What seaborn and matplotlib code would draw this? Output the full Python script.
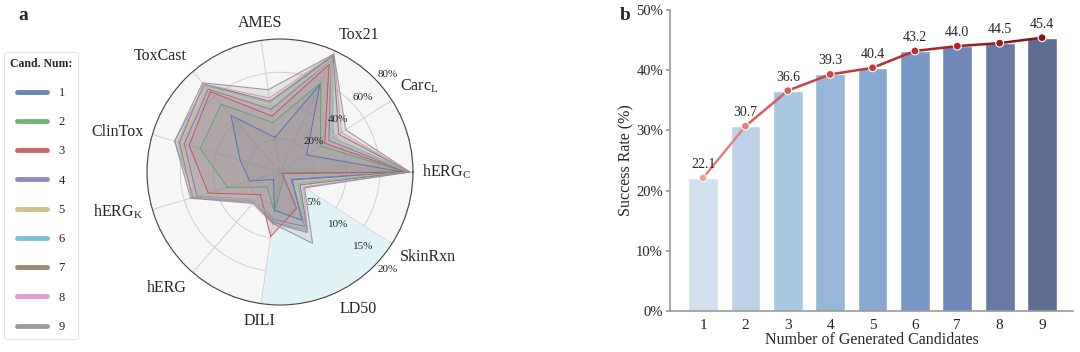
import numpy as np
import matplotlib
matplotlib.use("Agg")
import matplotlib.pyplot as plt
from matplotlib.lines import Line2D
from matplotlib.ticker import FuncFormatter
import seaborn as sns

# ---- radar data (values in %) ----
metrics = ["hERG$_\\mathregular{C}$", "Carc$_\\mathregular{L}$", "Tox21", "AMES", "ToxCast",
           "ClinTox", "hERG$_\\mathregular{K}$", "hERG", "DILI", "LD50", "SkinRxn"]
metric_max = [80, 80, 80, 80, 80, 80, 80, 80, 20, 20, 20]

cand_1 = [74, 19, 58, 21, 45, 25, 19, 6, 5.8, 8.0, 2.2]
cand_2 = [75, 29, 59, 30, 54, 50, 33, 12, 6.0, 1.2, 0.4]
cand_3 = [76, 32, 71, 34, 64, 57, 45, 18, 9.8, 6.0, 0.4]
cand_4 = [77, 35, 74, 38, 66, 60, 52, 22, 7.2, 9.0, 2.0]
cand_5 = [77, 37, 74, 40, 67, 62, 53, 22, 7.4, 9.4, 2.8]
cand_6 = [78, 38, 76, 42, 69, 66, 54, 23, 7.4, 9.6, 3.2]
cand_7 = [78, 42, 77, 43, 70, 63, 55, 24, 7.6, 10.0, 3.6]
cand_8 = [78, 44, 78, 45, 70, 64, 55, 24, 7.8, 10.0, 4.2]
cand_9 = [78, 47, 78, 50, 71, 66, 56, 25, 7.8, 11.8, 4.4]
radar_series = [cand_1, cand_2, cand_3, cand_4, cand_5, cand_6, cand_7, cand_8, cand_9]
cand_labels = ["1", "2", "3", "4", "5", "6", "7", "8", "9"]

# ---- bar data ----
candidates = ["1", "2", "3", "4", "5", "6", "7", "8", "9"]
success_rate = [22.1, 30.7, 36.6, 39.3, 40.4, 43.2, 44.0, 44.5, 45.4]

sns.set_theme(style="white")
plt.rcParams["font.family"] = ["Liberation Serif", "DejaVu Serif"]
plt.rcParams["mathtext.fontset"] = "stix"

radar_colors = ["#4C72B0", "#55A868", "#C44E52", "#8172B2", "#CCB974",
                "#64B5CD", "#857657", "#DA8BC3", "#8C8C8C"]

fig = plt.figure(figsize=(10.8, 3.52), dpi=100)

# ---------------- panel a: radar ----------------
ax = fig.add_axes([0.1361, 0.1335, 0.2463, 0.7557], projection="polar")
ax.set_facecolor("#f6f6f6")
angles = np.linspace(0, 2 * np.pi, len(metrics), endpoint=False)
ax.set_ylim(0, 1)
ax.set_xticks(angles)
ax.set_xticklabels([])
ax.set_yticks([0.25, 0.5, 0.75, 1.0])
ax.set_yticklabels([])
ax.grid(True, color="#cfcfcf", linewidth=0.7)
ax.spines["polar"].set_color("#444444")
ax.spines["polar"].set_linewidth(0.8)

# cyan wedge for the small-scale metrics
wedge = np.linspace(angles[8], angles[10], 60)
ax.fill_between(wedge, 0, 1, color="#e0f3f5", alpha=0.95, zorder=1, lw=0)

for vals, col in zip(radar_series, radar_colors):
    r = np.array(vals) / np.array(metric_max)
    rr = np.append(r, r[0])
    aa = np.append(angles, angles[0])
    ax.fill(aa, rr, color=col, alpha=0.16, zorder=2, lw=0)
    ax.plot(aa, rr, color=col, lw=0.8, alpha=0.85, zorder=3)

for v, r in zip([20, 40, 60, 80], [0.25, 0.5, 0.75, 1.0]):
    ax.text(np.deg2rad(42), r + 0.09, f"{v}%", ha="center", va="center", fontsize=8, zorder=5)
for v, r in zip([5, 10, 15, 20], [0.25, 0.5, 0.75, 1.0]):
    ax.text(np.deg2rad(-42), r + 0.09, f"{v}%", ha="center", va="center", fontsize=8, zorder=5)

for ang, lab in zip(angles, metrics):
    c, s = np.cos(ang), np.sin(ang)
    ha = "left" if c > 0.3 else ("right" if c < -0.3 else "center")
    va = "bottom" if s > 0.3 else ("top" if s < -0.3 else "center")
    ax.text(ang, 1.07, lab, ha=ha, va=va, fontsize=11.5)

handles = [Line2D([0], [0], color=c, lw=3.5, alpha=0.85) for c in radar_colors]
leg = fig.legend(handles, cand_labels, title="Cand. Num:", loc="upper left",
                 bbox_to_anchor=(0.004, 0.852), borderaxespad=0, fontsize=9,
                 title_fontproperties={"weight": "bold", "size": 8.5},
                 handlelength=2.4, labelspacing=1.38, borderpad=0.45,
                 handletextpad=0.9, frameon=True, fancybox=True)
leg.get_frame().set_edgecolor("#dddddd")
leg.get_frame().set_linewidth(0.8)

# ---------------- panel b: bars ----------------
ax2 = fig.add_axes([0.6204, 0.1165, 0.3731, 0.8551])
bar_colors = sns.blend_palette(["#d0e0ee", "#a8c7e0", "#86a8d1", "#6f88b8", "#5e6d92"], 9)
sns.barplot(x=candidates, y=success_rate, hue=candidates, palette=bar_colors,
            legend=False, width=0.7, saturation=1, ax=ax2)

line_colors = sns.blend_palette(["#eaa3a3", "#d04848", "#b52a2a", "#8b1414"], 9)
xs = np.arange(len(success_rate))
for i in range(len(xs) - 1):
    ax2.plot(xs[i:i + 2], success_rate[i:i + 2], color=line_colors[i + 1], lw=1.8, zorder=3)
ax2.scatter(xs, success_rate, c=line_colors, s=32, edgecolor="white", linewidth=0.8, zorder=4)
for x, v in zip(xs, success_rate):
    ax2.annotate(f"{v:.1f}", (x, v), xytext=(0, 5), textcoords="offset points",
                 ha="center", va="bottom", fontsize=10)

ax2.set_ylim(0, 50)
ax2.set_xlim(-0.78, 8.73)
ax2.yaxis.set_major_formatter(FuncFormatter(lambda v, p: f"{v:.0f}%"))
ax2.set_ylabel("Success Rate (%)", fontsize=11.5, labelpad=1)
ax2.set_xlabel("Number of Generated Candidates", fontsize=11.5, labelpad=0)
ax2.tick_params(axis="y", left=True, length=3, color="#999999", labelsize=10.5, pad=2)
ax2.tick_params(axis="x", bottom=False, labelsize=11, pad=0)
sns.despine(ax=ax2)
for sp in ["left", "bottom"]:
    ax2.spines[sp].set_color("#999999")
    ax2.spines[sp].set_linewidth(1.2)

fig.text(0.017, 0.955, "a", fontsize=14, fontweight="bold", va="center")
fig.text(0.574, 0.955, "b", fontsize=14, fontweight="bold", va="center")

fig.savefig("out.png", dpi=100)
